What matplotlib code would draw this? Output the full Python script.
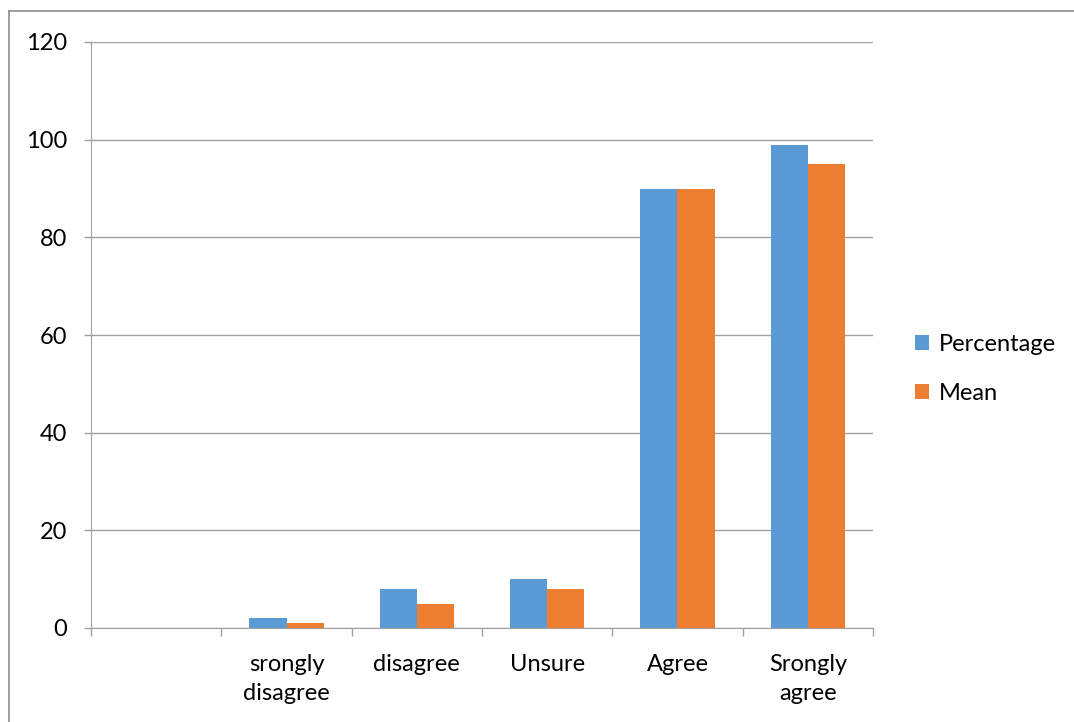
import matplotlib
matplotlib.use("Agg")
import matplotlib.pyplot as plt
from matplotlib.lines import Line2D
import numpy as np

plt.rcParams['font.family'] = ['Lato', 'DejaVu Sans']

categories = ["", "srongly\ndisagree", "disagree", "Unsure", "Agree", "Srongly\nagree"]
percentage = [0, 2, 8, 10, 90, 99]
mean = [0, 1, 5, 8, 90, 95]
yticks = [0, 20, 40, 60, 80, 100, 120]

blue = "#5B9BD5"
orange = "#ED7D31"
grid_col = "#A0A0A0"

fig = plt.figure(figsize=(10.74, 7.22), dpi=100)
W, H = 1074, 722
ax = fig.add_axes([91 / W, 1 - 628 / H, (873 - 91) / W, (628 - 42) / H])

x = np.arange(len(categories))
bw = 1 / 3.5
ax.bar(x - bw / 2, percentage, width=bw, color=blue, label="Percentage", zorder=3)
ax.bar(x + bw / 2, mean, width=bw, color=orange, label="Mean", zorder=3)

ax.set_xlim(-0.5, len(categories) - 0.5)
ax.set_ylim(0, 120)
ax.set_yticks(yticks)
ax.yaxis.grid(True, color=grid_col, linewidth=1.0, zorder=0)
ax.set_axisbelow(True)

ax.set_xticks(x)
ax.set_xticklabels(categories, fontsize=17, linespacing=1.45)
ax.tick_params(axis='x', length=0, pad=19)
ax.set_xticks(np.arange(len(categories) + 1) - 0.5, minor=True)
ax.tick_params(axis='x', which='minor', length=6, color=grid_col, width=1.0)
ax.tick_params(axis='y', length=5, color=grid_col, width=1.0, labelsize=17, pad=12)

for s in ['top', 'right']:
    ax.spines[s].set_visible(False)
ax.spines['left'].set_color(grid_col)
ax.spines['bottom'].set_color(grid_col)

ax.legend(loc='center left', bbox_to_anchor=(894 / W, 1 - 369 / H),
          bbox_transform=fig.transFigure, frameon=False, fontsize=17,
          handlelength=0.6, handleheight=0.6, handletextpad=0.4,
          labelspacing=1.2)

# outer chart border (left and top edges)
fig.lines.append(Line2D([8.5 / W, 8.5 / W], [0, 1 - 10.5 / H], transform=fig.transFigure,
                        color="#8C8C8C", linewidth=1.2))
fig.lines.append(Line2D([8.5 / W, 1], [1 - 10.5 / H, 1 - 10.5 / H], transform=fig.transFigure,
                        color="#8C8C8C", linewidth=1.2))

fig.savefig("out.png", dpi=100)
